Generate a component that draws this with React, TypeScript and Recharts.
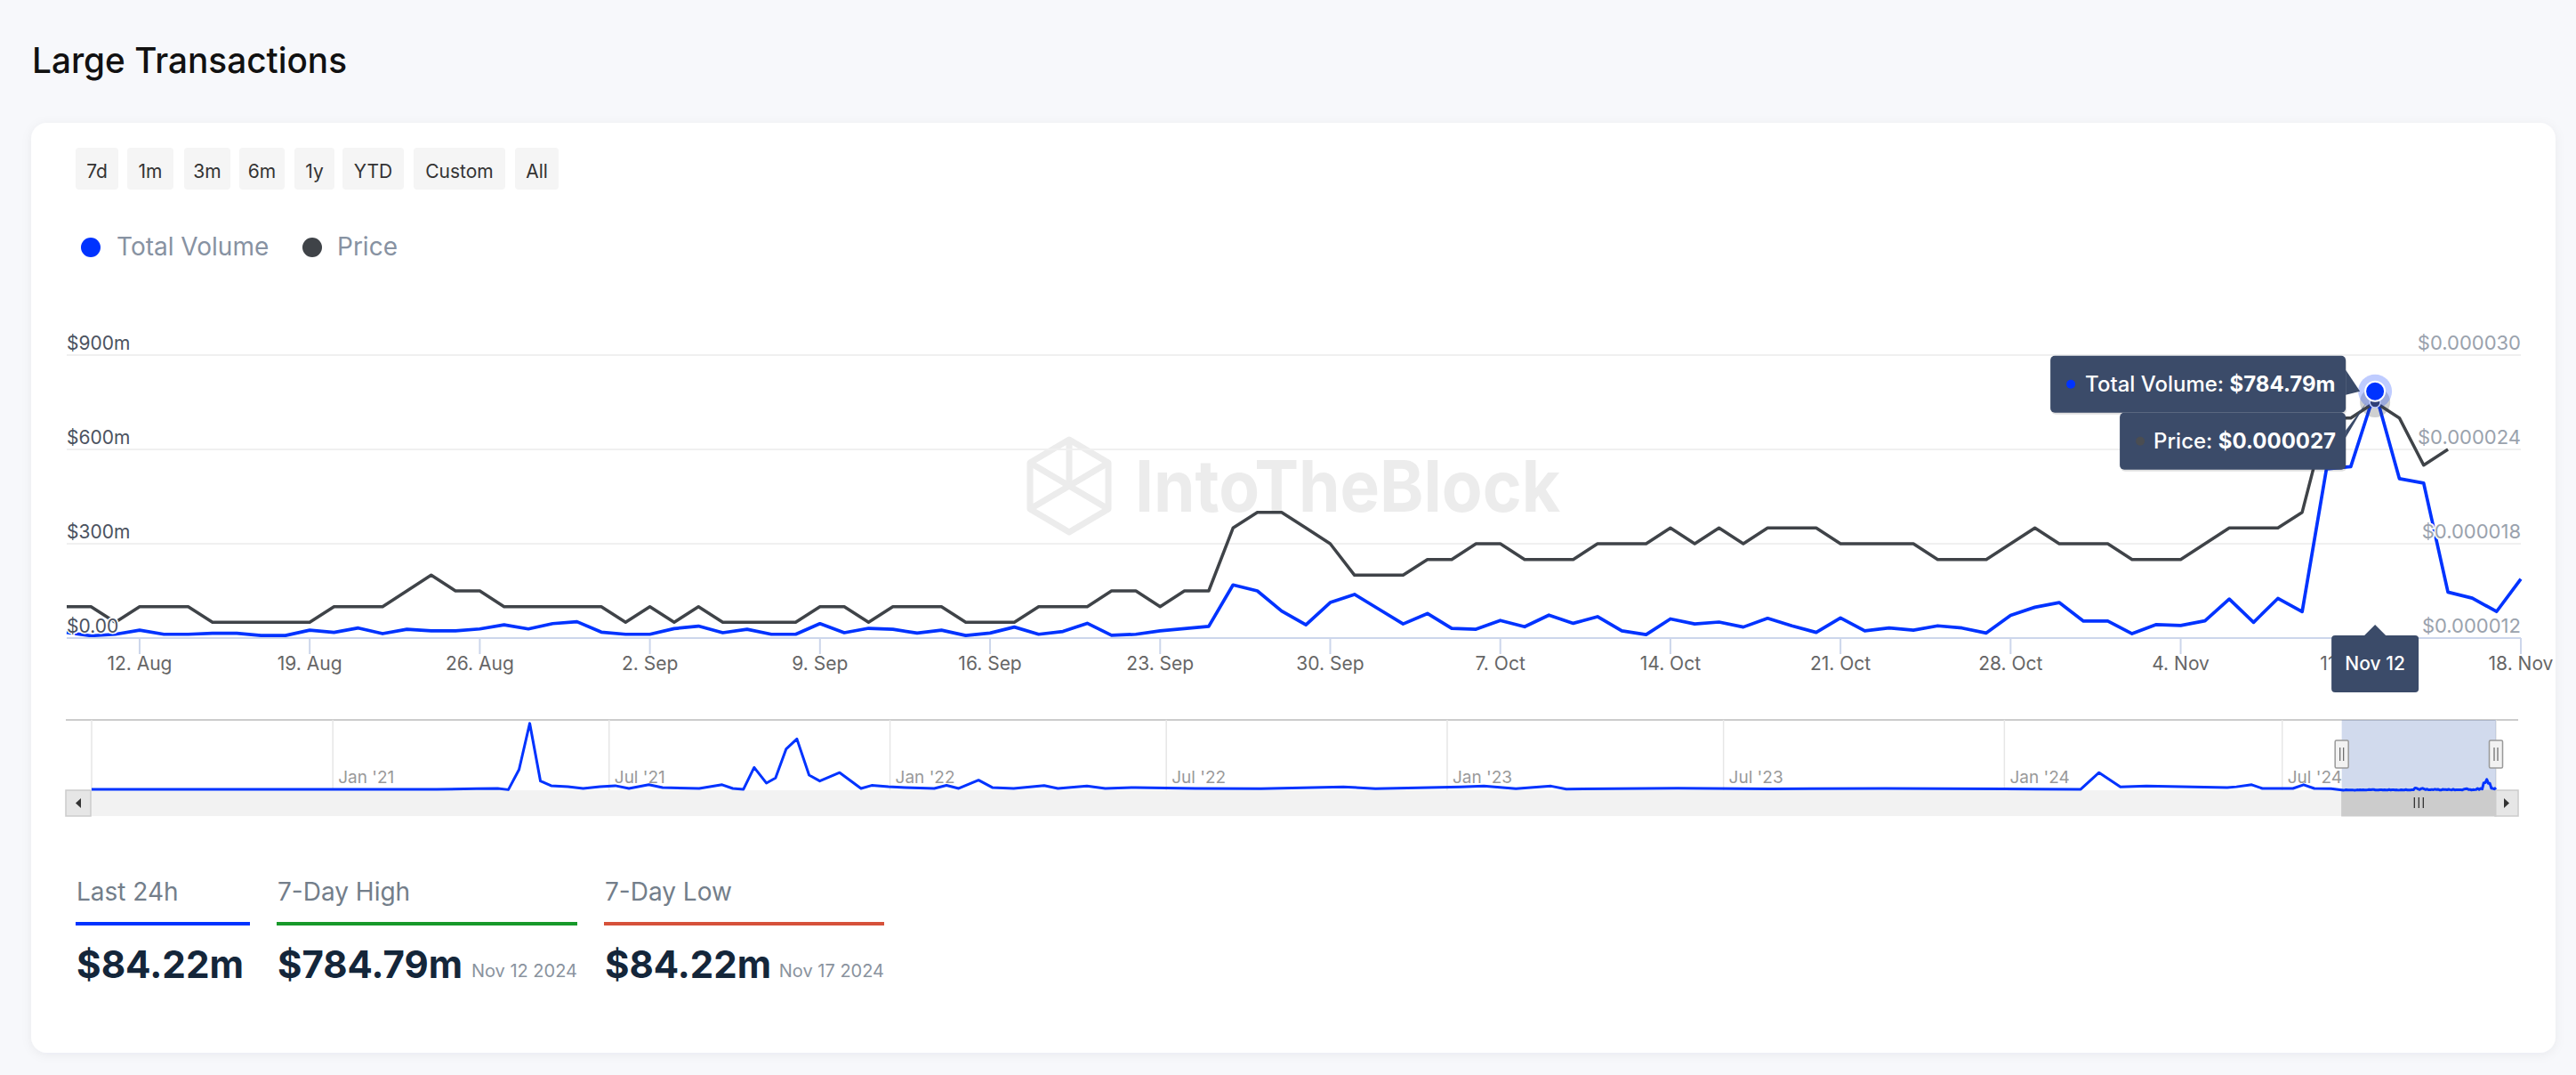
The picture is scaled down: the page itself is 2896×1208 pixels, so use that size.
import React from 'react';
import { LineChart, Line, XAxis, YAxis, CartesianGrid, ReferenceDot, ReferenceArea } from 'recharts';

const FONT = 'Inter, "Noto Sans", sans-serif';
const BLUE = '#0033ff';
const GREY = '#3f4348';
const TIP = '#3b4b69';

// daily series, first point is Aug 9 2024
const firstDay = '2024-08-09';

// Total Volume in $m
const totalVolume = [
  18, 7, 12, 25, 12, 12, 15, 15, 8, 8,
  25, 18, 32, 14, 28, 23, 23, 29, 42, 29,
  46, 52, 19, 12, 12, 30, 38, 17, 28, 12,
  12, 46, 17, 31, 28, 16, 25, 8, 16, 35,
  12, 21, 47, 9, 12, 23, 30, 37, 169, 150,
  86, 42, 113, 139, 92, 45, 78, 31, 28, 56,
  36, 73, 47, 68, 23, 11, 61, 45, 51, 35,
  63, 39, 18, 64, 23, 32, 25, 39, 32, 16,
  72, 98, 113, 54, 54, 14, 43, 40, 55, 124,
  50, 126, 84, 538, 545, 784.79, 507, 493, 146, 127, 84.22, 188,
];

// Price in $ (no price for the last three days)
const price = [
  0.000014, 0.000014, 0.000013, 0.000014, 0.000014, 0.000014, 0.000013, 0.000013, 0.000013, 0.000013,
  0.000013, 0.000014, 0.000014, 0.000014, 0.000015, 0.000016, 0.000015, 0.000015, 0.000014, 0.000014,
  0.000014, 0.000014, 0.000014, 0.000013, 0.000014, 0.000013, 0.000014, 0.000013, 0.000013, 0.000013,
  0.000013, 0.000014, 0.000014, 0.000013, 0.000014, 0.000014, 0.000014, 0.000013, 0.000013, 0.000013,
  0.000014, 0.000014, 0.000014, 0.000015, 0.000015, 0.000014, 0.000015, 0.000015, 0.000019, 0.00002,
  0.00002, 0.000019, 0.000018, 0.000016, 0.000016, 0.000016, 0.000017, 0.000017, 0.000018, 0.000018,
  0.000017, 0.000017, 0.000017, 0.000018, 0.000018, 0.000018, 0.000019, 0.000018, 0.000019, 0.000018,
  0.000019, 0.000019, 0.000019, 0.000018, 0.000018, 0.000018, 0.000018, 0.000017, 0.000017, 0.000017,
  0.000018, 0.000019, 0.000018, 0.000018, 0.000018, 0.000017, 0.000017, 0.000017, 0.000018, 0.000019,
  0.000019, 0.000019, 0.00002, 0.000026, 0.000026, 0.000027, 0.000026, 0.000023, 0.000024, null, null, null,
];

const volumeTicks = [0, 300, 600, 900];
const priceTicks = [0.000012, 0.000018, 0.000024, 0.00003];
const weekTicks = [
  '2024-08-12', '2024-08-19', '2024-08-26', '2024-09-02', '2024-09-09', '2024-09-16', '2024-09-23',
  '2024-09-30', '2024-10-07', '2024-10-14', '2024-10-21', '2024-10-28', '2024-11-04', '2024-11-11', '2024-11-18',
];
const focusDay = '2024-11-12';

// navigator history before the visible window, $m
const navDates = [
  '2020-07-27', '2020-09-15', '2020-11-20', '2021-01-15', '2021-03-10', '2021-04-05', '2021-04-19', '2021-04-26',
  '2021-05-03', '2021-05-10', '2021-05-17', '2021-05-24', '2021-06-04', '2021-06-14', '2021-06-25', '2021-07-05',
  '2021-07-14', '2021-07-27', '2021-08-05', '2021-08-29', '2021-09-13', '2021-09-20', '2021-09-27', '2021-10-04',
  '2021-10-12', '2021-10-18', '2021-10-25', '2021-11-01', '2021-11-09', '2021-11-16', '2021-11-29', '2021-12-13',
  '2021-12-20', '2021-12-31', '2022-01-11', '2022-01-30', '2022-02-07', '2022-02-15', '2022-02-28', '2022-03-09',
  '2022-03-23', '2022-04-12', '2022-04-21', '2022-05-10', '2022-05-22', '2022-06-11', '2022-07-20', '2022-09-01',
  '2022-10-25', '2022-11-15', '2023-01-10', '2023-01-25', '2023-02-15', '2023-03-10', '2023-03-20', '2023-06-01',
  '2023-08-01', '2023-10-15', '2024-01-01', '2024-02-20', '2024-03-03', '2024-03-17', '2024-04-03', '2024-05-26',
  '2024-06-01', '2024-06-11', '2024-06-18', '2024-07-08', '2024-07-15', '2024-07-22', '2024-08-02',
];
const navVolume = [
  60, 60, 60, 60, 70, 110, 130, 40,
  1500, 4850, 670, 330, 260, 130, 260, 330,
  130, 400, 190, 130, 400, 130, 70, 1650,
  520, 890, 3000, 3720, 1100, 670, 1280, 130,
  350, 260, 200, 130, 350, 130, 730, 200,
  130, 340, 130, 300, 130, 200, 130, 110,
  240, 120, 240, 300, 120, 300, 80, 150,
  100, 130, 100, 70, 1280, 240, 300, 200,
  250, 400, 130, 130, 400, 130, 110,
];
const navTicks = ['2021-01-01', '2021-07-01', '2022-01-01', '2022-07-01', '2023-01-01', '2023-07-01', '2024-01-01', '2024-07-01'];

const rangeButtons = ['7d', '1m', '3m', '6m', '1y', 'YTD', 'Custom', 'All'];
const buttonBoxes = [[85, 48], [143, 52], [207, 52], [269, 51], [331, 45], [385, 69], [465, 103], [579, 49]];

const stats = [
  { label: 'Last 24h', value: '$84.22m', date: '', color: BLUE },
  { label: '7-Day High', value: '$784.79m', date: 'Nov 12 2024', color: '#17992a' },
  { label: '7-Day Low', value: '$84.22m', date: 'Nov 17 2024', color: '#d6513a' },
];

const MONTHS = ['Jan', 'Feb', 'Mar', 'Apr', 'May', 'Jun', 'Jul', 'Aug', 'Sep', 'Oct', 'Nov', 'Dec'];
const DAY = 86400000;
const ts = (s: string) => Date.parse(s + 'T00:00:00Z');

const days = totalVolume.map((_, i) => ts(firstDay) + i * DAY);
const mainData = days.map((t, i) => ({ t, volume: totalVolume[i], price: price[i] }));
const navData = navDates
  .map((d, i) => ({ t: ts(d), v: navVolume[i] }))
  .concat(days.map((t, i) => ({ t, v: totalVolume[i] })));
const focusT = ts(focusDay);
const focusIdx = days.indexOf(focusT);

const MainTick = (props: any) => {
  const { x, y, payload } = props;
  const d = new Date(payload.value);
  if (payload.value === focusT) {
    return (
      <g>
        <polygon points={`${x - 13},${y - 20} ${x},${y - 33} ${x + 13},${y - 20}`} fill={TIP} />
        <rect x={x - 49} y={y - 21} width={98} height={64} rx={4} fill={TIP} />
        <text x={x} y={y + 18} textAnchor="middle" fontSize={21} fontWeight={500} fill="#fff" fontFamily={FONT}>
          {`${MONTHS[d.getUTCMonth()]} ${d.getUTCDate()}`}
        </text>
      </g>
    );
  }
  return (
    <text x={x} y={y + 18} textAnchor="middle" fontSize={21} fill="#666" fontFamily={FONT}>
      {`${d.getUTCDate()}. ${MONTHS[d.getUTCMonth()]}`}
    </text>
  );
};

const VolumeLabel = (props: any) => {
  const { x, y, payload } = props;
  const v = payload.value;
  return (
    <text x={x} y={y - 6} textAnchor="start" fontSize={21} fill="#4b5260" fontFamily={FONT}
      stroke="#fff" strokeWidth={3} paintOrder="stroke">
      {v === 0 ? '$0.00' : `$${v}m`}
    </text>
  );
};

const PriceLabel = (props: any) => {
  const { x, y, payload } = props;
  return (
    <text x={x} y={y - 6} textAnchor="end" fontSize={22} fill="#9aa2ad" fontFamily={FONT}
      stroke="#fff" strokeWidth={3} paintOrder="stroke">
      {`$${payload.value.toFixed(6)}`}
    </text>
  );
};

const PriceFocus = (props: any) => {
  const { cx, cy } = props;
  if (cx == null) return null;
  return (
    <g>
      <circle cx={cx} cy={cy} r={17} fill={GREY} opacity={0.25} />
      <circle cx={cx} cy={cy} r={6} fill={GREY} stroke="#fff" strokeWidth={1.5} />
    </g>
  );
};

const VolumeFocus = (props: any) => {
  const { cx, cy } = props;
  if (cx == null) return null;
  const right = cx - 33;
  return (
    <g fontFamily={FONT}>
      <circle cx={cx} cy={cy} r={19} fill={BLUE} opacity={0.25} />
      <circle cx={cx} cy={cy} r={11} fill={BLUE} stroke="#fff" strokeWidth={2} />
      <rect x={cx - 364} y={cy - 38} width={332} height={64} rx={5} fill="#000" opacity={0.12} />
      <rect x={cx - 286} y={cy + 26} width={254} height={64} rx={5} fill="#000" opacity={0.12} />
      <polygon points={`${right},${cy - 24} ${cx - 17},${cy} ${right},${cy + 4}`} fill={TIP} />
      <rect x={cx - 365} y={cy - 40} width={332} height={64} rx={5} fill={TIP} />
      <polygon points={`${right},${cy + 44} ${cx - 10},${cy + 13} ${right},${cy + 52}`} fill={TIP} />
      <rect x={cx - 287} y={cy + 24} width={254} height={64} rx={5} fill={TIP} />
      <circle cx={cx - 342} cy={cy - 8} r={5} fill={BLUE} />
      <text x={cx - 326} y={cy} fontSize={24} fill="#fff">
        <tspan fontWeight={500}>Total Volume: </tspan>
        <tspan fontWeight={700}>{`$${totalVolume[focusIdx].toFixed(2)}m`}</tspan>
      </text>
      <circle cx={cx - 264} cy={cy + 56} r={5} fill="#4a4d52" />
      <text x={cx - 249} y={cy + 64} fontSize={24} fill="#fff">
        <tspan fontWeight={500}>Price: </tspan>
        <tspan fontWeight={700}>{`$${(price[focusIdx] as number).toFixed(6)}`}</tspan>
      </text>
    </g>
  );
};

const NavTick = (props: any) => {
  const { x, y, payload } = props;
  const d = new Date(payload.value);
  return (
    <text x={x + 6} y={y - 8} fontSize={19} fill="#999" fontFamily={FONT}>
      {`${MONTHS[d.getUTCMonth()]} '${String(d.getUTCFullYear()).slice(2)}`}
    </text>
  );
};

const NavWindow = (props: any) => {
  const { x, y, width, height } = props;
  if (x == null) return null;
  const bottom = y + height;
  const handle = (hx: number) => (
    <g>
      <rect x={hx - 7.5} y={y + 23} width={15} height={31} rx={1.5} fill="#f2f2f2" stroke="#999" strokeWidth={1.5} />
      <line x1={hx - 2} y1={y + 31} x2={hx - 2} y2={y + 46} stroke="#666" strokeWidth={1.2} />
      <line x1={hx + 2} y1={y + 31} x2={hx + 2} y2={y + 46} stroke="#666" strokeWidth={1.2} />
    </g>
  );
  const mid = x + width / 2;
  return (
    <g>
      <rect x={x} y={y} width={width} height={height} fill="rgba(102,133,194,0.3)" />
      <rect x={x} y={bottom} width={width} height={29} fill="#cccccc" stroke="#cccccc" />
      <line x1={mid - 5} y1={bottom + 8} x2={mid - 5} y2={bottom + 20} stroke="#333" strokeWidth={1.3} />
      <line x1={mid} y1={bottom + 8} x2={mid} y2={bottom + 20} stroke="#333" strokeWidth={1.3} />
      <line x1={mid + 5} y1={bottom + 8} x2={mid + 5} y2={bottom + 20} stroke="#333" strokeWidth={1.3} />
      {handle(x)}
      {handle(x + width)}
    </g>
  );
};

const PageChrome = () => (
  <svg width={2896} height={1208} style={{ position: 'absolute', left: 0, top: 0 }} fontFamily={FONT}>
    <defs>
      <filter id="cardShadow" x="-2%" y="-5%" width="104%" height="110%">
        <feDropShadow dx="0" dy="2" stdDeviation="6" floodColor="#1c2a4a" floodOpacity="0.06" />
      </filter>
    </defs>
    <rect width={2896} height={1208} fill="#f7f8fb" />
    <text x={36} y={82} fontSize={40} fontWeight={500} fill="#111" textLength={354} lengthAdjust="spacingAndGlyphs">
      Large Transactions
    </text>
    <rect x={35} y={138} width={2838} height={1045} rx={18} fill="#fff" filter="url(#cardShadow)" />

    {rangeButtons.map((b, i) => (
      <g key={b}>
        <rect x={buttonBoxes[i][0]} y={166} width={buttonBoxes[i][1]} height={47} rx={4} fill="#f5f5f5" />
        <text x={buttonBoxes[i][0] + buttonBoxes[i][1] / 2} y={200} textAnchor="middle" fontSize={21} fill="#333">{b}</text>
      </g>
    ))}

    <circle cx={102} cy={278} r={11} fill={BLUE} />
    <text x={131} y={287} fontSize={28} fill="#8792a2">Total Volume</text>
    <circle cx={351} cy={278} r={11} fill={GREY} />
    <text x={379} y={287} fontSize={28} fill="#8792a2">Price</text>

    {/* watermark */}
    <g stroke="#ececec" strokeWidth={7} fill="none" strokeLinejoin="round">
      <polygon points="1202,494 1246,520 1246,572 1202,598 1158,572 1158,520" />
      <polyline points="1202,494 1202,546 1158,572" />
      <polyline points="1202,546 1246,572" />
      <polyline points="1158,520 1202,546 1246,520" />
    </g>
    <text x={1276} y={575} fontSize={80} fontWeight={700} fill="#ececec" textLength={478} lengthAdjust="spacingAndGlyphs">IntoTheBlock</text>

    {/* navigator frame + scrollbar */}
    <rect x={74} y={888} width={2757} height={29} fill="#f2f2f2" />
    <rect x={74} y={888} width={28} height={29} fill="#e6e6e6" stroke="#cccccc" strokeWidth={1.5} />
    <polygon points="91,897 85,902.5 91,908" fill="#333" />
    <rect x={2805} y={888} width={26} height={29} fill="#e6e6e6" stroke="#cccccc" strokeWidth={1.5} />
    <polygon points="2815,897 2821,902.5 2815,908" fill="#333" />
    <line x1={74} y1={809} x2={2831} y2={809} stroke="#cccccc" strokeWidth={2} />

    {stats.map((s, i) => {
      const x0 = [85, 311, 679][i];
      const w = [196, 338, 315][i];
      const vw = [188, 208, 187][i];
      return (
        <g key={s.label}>
          <text x={x0 + 1} y={1012} fontSize={28} fill="#737e8a">{s.label}</text>
          <rect x={x0} y={1036} width={w} height={4} fill={s.color} />
          <text x={x0 + 1} y={1099} fontSize={43} fontWeight={700} fill="#14263a" textLength={vw} lengthAdjust="spacingAndGlyphs">
            {s.value}
          </text>
          {s.date && (
            <text x={x0 + w} y={1098} textAnchor="end" fontSize={20} fill="#8a939e">{s.date}</text>
          )}
        </g>
      );
    })}
  </svg>
);

const MainChart = () => (
  <div style={{ position: 'absolute', left: 0, top: 0 }}>
    <LineChart width={2896} height={800} data={mainData} margin={{ top: 399, right: 62, bottom: 82, left: 75 }}>
      <CartesianGrid yAxisId="vol" vertical={false} stroke="#f0f0f0" strokeWidth={2} />
      <XAxis dataKey="t" type="number" domain={['dataMin', 'dataMax']} ticks={[...weekTicks.map(ts), focusT]}
        interval={0} height={1} tickSize={18} tickMargin={0} tick={MainTick}
        axisLine={{ stroke: '#ccd6eb', strokeWidth: 2 }} tickLine={{ stroke: '#ccd6eb', strokeWidth: 2 }} />
      <Line yAxisId="vol" type="linear" dataKey="volume" stroke={BLUE} strokeWidth={3.7} strokeLinejoin="round"
        dot={false} activeDot={false} isAnimationActive={false} />
      <Line yAxisId="price" type="linear" dataKey="price" stroke={GREY} strokeWidth={3.5} strokeLinejoin="round"
        dot={false} activeDot={false} isAnimationActive={false} />
      <YAxis yAxisId="vol" domain={[0, 900]} ticks={volumeTicks} mirror width={1} tickSize={0} tickMargin={0}
        axisLine={false} tickLine={false} tick={VolumeLabel} />
      <YAxis yAxisId="price" orientation="right" domain={[0.000012, 0.00003]} ticks={priceTicks} mirror width={1}
        tickSize={0} tickMargin={0} axisLine={false} tickLine={false} tick={PriceLabel} />
      <ReferenceDot yAxisId="price" x={focusT} y={price[focusIdx] as number} shape={PriceFocus} />
      <ReferenceDot yAxisId="vol" x={focusT} y={totalVolume[focusIdx]} shape={VolumeFocus} />
    </LineChart>
  </div>
);

const Navigator = () => (
  <div style={{ position: 'absolute', left: 0, top: 780 }}>
    <LineChart width={2896} height={160} data={navData} margin={{ top: 29, right: 90, bottom: 51, left: 103 }}>
      <CartesianGrid horizontal={false} stroke="#e6e6e6" strokeWidth={1.5} />
      <XAxis dataKey="t" type="number" domain={['dataMin', 'dataMax']} ticks={navTicks.map(ts)} interval={0}
        height={1} tickSize={0} tickMargin={0} axisLine={false} tickLine={false} tick={NavTick} />
      <YAxis hide domain={[0, 5100]} />
      <ReferenceArea x1={days[0]} x2={days[days.length - 1]} shape={NavWindow} />
      <Line type="linear" dataKey="v" stroke={BLUE} strokeWidth={3} strokeLinejoin="round"
        dot={false} activeDot={false} isAnimationActive={false} />
    </LineChart>
  </div>
);

export default function App() {
  return (
    <div style={{ position: 'relative', width: 2896, height: 1208, fontFamily: FONT, overflow: 'hidden' }}>
      <style>{'body{margin:0;background:#f7f8fb}'}</style>
      <PageChrome />
      <MainChart />
      <Navigator />
    </div>
  );
}
